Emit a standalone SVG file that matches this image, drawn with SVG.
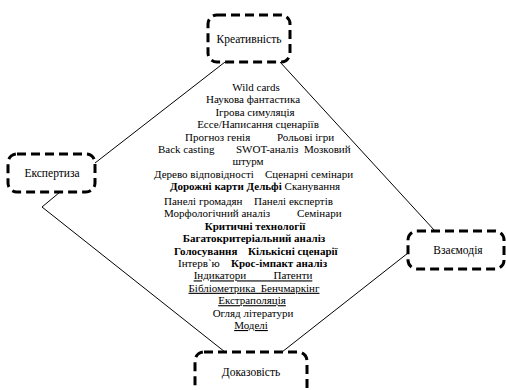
<svg xmlns="http://www.w3.org/2000/svg" width="506" height="390" viewBox="0 0 506 390">
<style>
.box{fill:#fff;stroke:#000;stroke-width:3;stroke-dasharray:9 5}
text{font-family:'Liberation Serif','DejaVu Serif',serif;fill:#000}
.lbl{font-size:11.5px;text-anchor:middle}
.t{font-size:11px}
.m{text-anchor:middle}
.b{font-weight:bold}
.u{text-decoration:underline}
.ln{stroke:#000;stroke-width:1;fill:none}
</style>
<rect width="506" height="390" fill="#fff"/>
<g id="connectors">
<line class="ln" x1="225" y1="62" x2="95" y2="163"/>
<line class="ln" x1="280" y1="62" x2="435" y2="231"/>
<polyline class="ln" points="60,192 42,207 225,352"/>
<line class="ln" x1="282" y1="352" x2="408" y2="253"/>
</g>
<g id="node-creativity">
<rect class="box" x="208" y="15" width="82" height="47" rx="9"/>
<text class="lbl" x="249" y="43" font-family="Liberation Serif">Креативність</text>
</g>
<g id="node-expertise">
<rect class="box" x="8" y="154" width="87" height="38" rx="9"/>
<text class="lbl" x="52" y="177" font-family="Liberation Serif">Експертиза</text>
</g>
<g id="node-interaction">
<rect class="box" x="408" y="231" width="96" height="38" rx="9"/>
<text class="lbl" x="458" y="254" font-family="Liberation Serif">Взаємодія</text>
</g>
<g id="node-evidence">
<rect class="box" x="195" y="352" width="112" height="48" rx="9"/>
<text class="lbl" x="251" y="376" font-family="Liberation Serif">Доказовість</text>
</g>
<g id="methods" font-family="Liberation Serif">
<text class="t m" x="256" y="91">Wild cards</text>
<text class="t m" x="253" y="103.4">Наукова фантастика</text>
<text class="t m" x="255" y="115.8">Ігрова симуляція</text>
<text class="t m" x="258" y="128.2">Ессе/Написання сценаріїв</text>
<text class="t" x="185" y="140.6">Прогноз генія</text>
<text class="t" x="277" y="140.6">Рольові ігри</text>
<text class="t" x="158" y="153">Back casting</text>
<text class="t" x="236" y="153">SWOT-аналіз</text>
<text class="t" x="304" y="153">Мозковий</text>
<text class="t m" x="248" y="165.4">штурм</text>
<text class="t" x="154" y="177.8">Дерево відповідності</text>
<text class="t" x="265" y="177.8">Сценарні семінари</text>
<text class="t m" x="255" y="190.2"><tspan class="b">Дорожні карти Дельфі</tspan> Сканування</text>
<text class="t" x="164" y="205">Панелі громадян</text>
<text class="t" x="254" y="205">Панелі експертів</text>
<text class="t" x="164" y="217.4">Морфологічний аналіз</text>
<text class="t" x="297" y="217.4">Семінари</text>
<text class="t m b" x="255" y="229.8">Критичні технології</text>
<text class="t m b" x="254" y="242.2">Багатокритеріальний аналіз</text>
<text class="t b" x="174" y="254.6">Голосування</text>
<text class="t b" x="248" y="254.6">Кількісні сценарії</text>
<text class="t" x="178" y="267">Інтерв`ю</text>
<text class="t b" x="231" y="267">Крос-імпакт аналіз</text>
<text class="t m u" x="253" y="279.4" xml:space="preserve">Індикатори          Патенти</text>
<text class="t m u" x="254" y="291.8" xml:space="preserve">Бібліометрика  Бенчмаркінг</text>
<text class="t m u" x="252" y="304.2">Екстраполяція</text>
<text class="t m" x="253" y="316.6">Огляд літератури</text>
<text class="t m u" x="251" y="329">Моделі</text>
</g>
</svg>
